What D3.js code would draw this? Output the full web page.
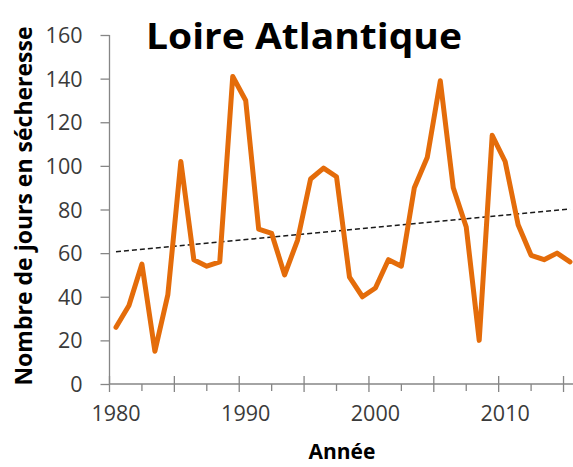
<!DOCTYPE html>
<html>
<head>
<meta charset="utf-8">
<script src="https://cdn.jsdelivr.net/npm/d3@7"></script>
<style>
  html, body { margin: 0; padding: 0; background: #fff; }
  svg { display: block; }
  text { font-family: "Open Sans", "Liberation Sans", sans-serif; }
</style>
</head>
<body>
<svg id="chart" width="573" height="467"></svg>
<script>
const years = d3.range(1980, 2016);
const droughtDays = [26, 36, 55, 15, 41, 102, 57, 54, 56, 141, 130, 71,
                     69, 50, 66, 94, 99, 95, 49, 40, 44, 57, 54, 90,
                     104, 139, 90, 72, 20, 114, 102, 73, 59, 57, 60, 56];
const trendYears = [1980, 2015];
const trendValues = [60.6, 80.2];
const yTicks = [0, 20, 40, 60, 80, 100, 120, 140, 160];
const xLabels = [1980, 1990, 2000, 2010];
const tickYears = d3.range(0, 15).map(k => 1979.5 + 2.5 * k);

const title = "Loire Atlantique";
const yTitle = "Nombre de jours en sécheresse";
const xTitle = "Année";

const svg = d3.select("#chart");
const x = d3.scaleLinear().domain([1979.5, 2015.5]).range([109.5, 576.5]);
const y = d3.scaleLinear().domain([0, 160]).range([384, 35]);

const axisColor = "#868686";
const textColor = "#3a3a3a";

// Y axis
const yAxis = d3.axisLeft(y).tickValues(yTicks).tickSize(9).tickPadding(18)
  .tickFormat(d3.format("d"));
const gy = svg.append("g").attr("transform", "translate(109.5,0)").call(yAxis);
gy.select(".domain").attr("stroke", axisColor).attr("stroke-width", 1.3).attr("d", `M0,${y(160)}V${y(0)}`);
gy.selectAll(".tick line").attr("stroke", axisColor).attr("stroke-width", 1.3);
gy.selectAll(".tick text").attr("fill", textColor).style("font-size", "21.5px")
  .attr("x", -27).attr("dy", "0.35em");

// X axis
const gx = svg.append("g").attr("transform", `translate(0,${y(0)})`);
gx.append("line").attr("x1", x(1979.5)).attr("x2", x(2015.5)).attr("y1", 0).attr("y2", 0)
  .attr("stroke", axisColor).attr("stroke-width", 1.3);
gx.selectAll("line.t").data(tickYears).join("line").attr("class", "t")
  .attr("x1", d => x(d)).attr("x2", d => x(d))
  .attr("y1", (d, i) => i % 2 === 0 ? -8 : 0)
  .attr("y2", (d, i) => i % 2 === 0 ? 8 : 7)
  .attr("stroke", axisColor).attr("stroke-width", 1.3);
gx.selectAll("text.l").data(xLabels).join("text").attr("class", "l")
  .attr("x", d => x(d)).attr("y", 37).attr("text-anchor", "middle")
  .attr("fill", textColor).style("font-size", "21.5px").text(d => d);

// Trend line
svg.append("line")
  .attr("x1", x(trendYears[0])).attr("y1", y(trendValues[0]))
  .attr("x2", x(trendYears[1])).attr("y2", y(trendValues[1]))
  .attr("stroke", "#1a1a1a").attr("stroke-width", 1.5).attr("stroke-dasharray", "5,3");

// Data line
const line = d3.line().x((d, i) => x(years[i])).y(d => y(d));
svg.append("path").datum(droughtDays).attr("d", line)
  .attr("fill", "none").attr("stroke", "#E46C0A").attr("stroke-width", 5)
  .attr("stroke-linejoin", "round").attr("stroke-linecap", "round");

// Titles
svg.append("text").attr("x", 304).attr("y", 49).attr("text-anchor", "middle")
  .style("font-size", "36px").style("font-weight", "bold").attr("fill", "#000")
  .attr("textLength", 316).attr("lengthAdjust", "spacingAndGlyphs").text(title);

svg.append("text").attr("transform", "translate(32,206) rotate(-90)").attr("text-anchor", "middle")
  .style("font-size", "23px").style("font-weight", "bold").attr("fill", "#000")
  .text(yTitle);

svg.append("text").attr("x", 342).attr("y", 459).attr("text-anchor", "middle")
  .style("font-size", "21px").style("font-weight", "bold").attr("fill", "#000")
  .text(xTitle);
</script>
</body>
</html>
